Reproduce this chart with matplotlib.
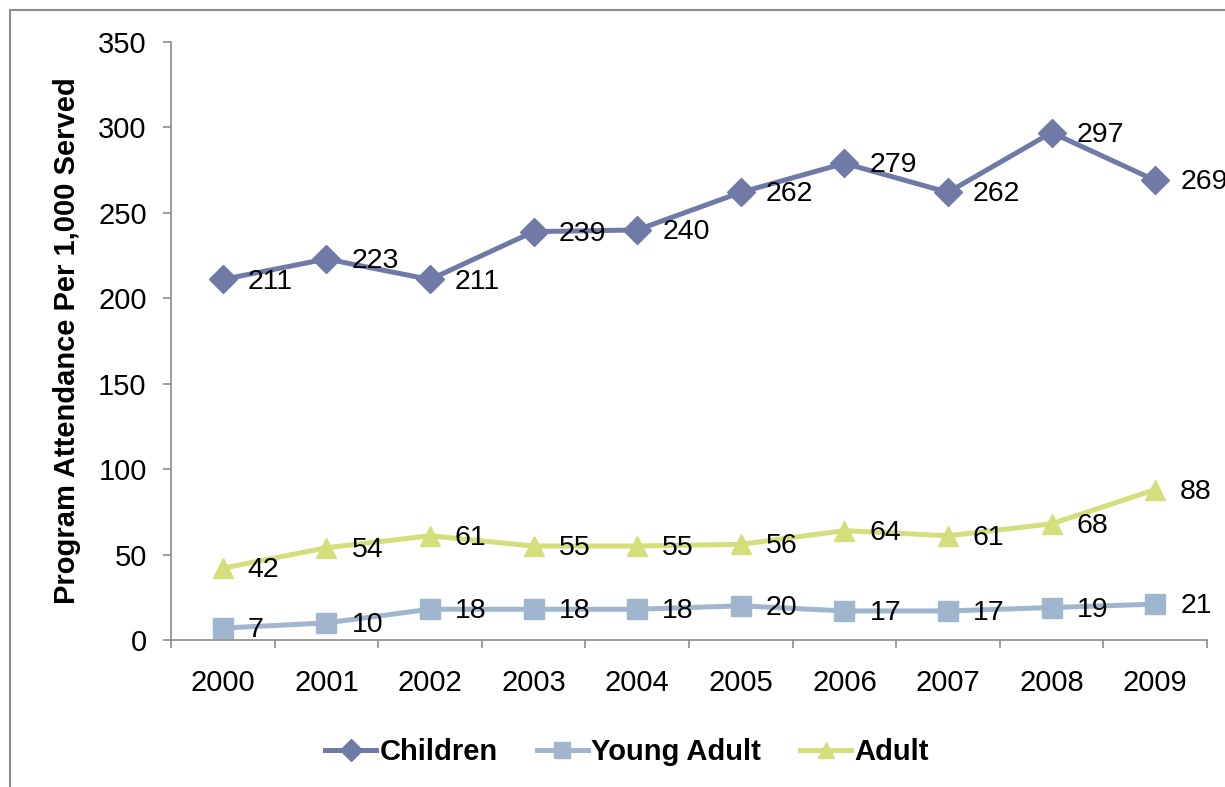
import matplotlib
matplotlib.use("Agg")
import matplotlib.pyplot as plt
from matplotlib.patches import Rectangle

years = ["2000", "2001", "2002", "2003", "2004", "2005", "2006", "2007", "2008", "2009"]
children = [211, 223, 211, 239, 240, 262, 279, 262, 297, 269]
young_adult = [7, 10, 18, 18, 18, 20, 17, 17, 19, 21]
adult = [42, 54, 61, 55, 55, 56, 64, 61, 68, 88]

plt.rcParams['font.family'] = ['Liberation Sans', 'DejaVu Sans']

fig = plt.figure(figsize=(12.25, 7.87), dpi=100)
ax = fig.add_axes([171/1225, 1-640/787, (1207-171)/1225, (640-42)/787])

fig.patches.append(Rectangle((10/1225, -0.05), 1.1, 1-10/787+0.05, transform=fig.transFigure,
                             fill=False, edgecolor='#8c8c8c', linewidth=1.5))

series = [
    ("Children", children, '#6f7aa7', 'D', 14),
    ("Young Adult", young_adult, '#9fb6ce', 's', 14),
    ("Adult", adult, '#d4de7b', '^', 14),
]
x = list(range(len(years)))
for name, vals, col, mk, ms in series:
    ax.plot(x, vals, color=col, marker=mk, markersize=ms, linewidth=3.6, label=name,
            markeredgecolor=col, clip_on=False)
    for xi, v in zip(x, vals):
        ax.annotate(str(v), (xi, v), xytext=(18, -1.5), textcoords='offset points',
                    ha='left', va='center', fontsize=20.5, color='black',
                    annotation_clip=False)

ax.set_xlim(-0.5, 9.5)
ax.set_ylim(0, 350)
ax.set_yticks(range(0, 351, 50))
ax.set_xticks(x)
ax.set_xticklabels(years)
ax.set_xticks([i - 0.5 for i in range(11)], minor=True)
ax.tick_params(axis='x', which='major', length=0, pad=21, labelsize=21)
ax.tick_params(axis='x', which='minor', length=5.5, width=1.2, color='#8c8c8c', direction='out')
ax.tick_params(axis='y', length=5.5, width=1.2, color='#8c8c8c', pad=12, labelsize=21)
for s in ['top', 'right']:
    ax.spines[s].set_visible(False)
for s in ['left', 'bottom']:
    ax.spines[s].set_color('#8c8c8c')
    ax.spines[s].set_linewidth(1.2)

ax.set_ylabel("Program Attendance Per 1,000 Served", fontsize=21, fontweight='bold', labelpad=12)

leg = fig.legend(loc='center', bbox_to_anchor=(627/1225, 1-752/787), ncol=3, frameon=False,
                 prop={'size': 21, 'weight': 'bold'}, handlelength=1.75, handletextpad=0.1,
                 columnspacing=1.35, markerscale=0.8)

fig.savefig("out.png", dpi=100)
